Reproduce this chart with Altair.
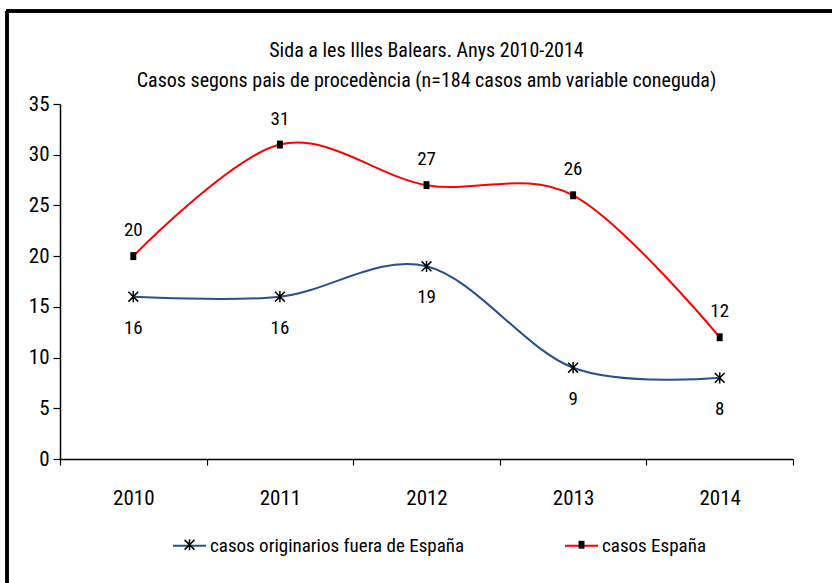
import altair as alt
import pandas as pd

years = ["2010", "2011", "2012", "2013", "2014"]
fuera = [16, 16, 19, 9, 8]
espana = [20, 31, 27, 26, 12]
series = ["casos originarios fuera de España", "casos España"]
colors = ["#27508C", "#FF0000"]
title_lines = ["Sida a les Illes Balears. Anys 2010-2014",
               "Casos segons pais de procedència (n=184  casos amb variable coneguda)"]
y_ticks = [0, 5, 10, 15, 20, 25, 30, 35]

FONT = "Liberation Sans Narrow, Arial Narrow, Roboto Condensed, DejaVu Sans Condensed, sans-serif"

# asterisk made of three thin filled bars; square marker
ASTER = ("M-0.045,-0.34L0.045,-0.34L0.045,0.34L-0.045,0.34Z"
         "M-0.265,-0.329L0.329,0.265L0.265,0.329L-0.329,-0.265Z"
         "M-0.329,0.265L0.265,-0.329L0.329,-0.265L-0.265,0.329Z")
SQUARE = "M-0.18,-0.24L0.18,-0.24L0.18,0.24L-0.18,0.24Z"

rows = []
for name, vals in zip(series, [fuera, espana]):
    for yr, v in zip(years, vals):
        rows.append({"year": yr, "serie": name, "serie_s": name, "value": v})
df = pd.DataFrame(rows)

SYM = 1089
LX, LY = 112, 424

x = alt.X("year:N", title=None, bandPosition=0.5,
          scale=alt.Scale(type="band", paddingInner=0, paddingOuter=0),
          axis=alt.Axis(tickBand="extent", labelAngle=0, labelFont=FONT, labelFontSize=21,
                        labelColor="black", labelPadding=22, tickSize=6, tickColor="black",
                        domainColor="black", domainWidth=1.5, tickWidth=1.2, grid=False))
y = alt.Y("value:Q", title=None,
          scale=alt.Scale(domain=[0, 35], nice=False),
          axis=alt.Axis(values=y_ticks, grid=False, tickSize=7, tickColor="black", tickWidth=1.2,
                        domainColor="black", domainWidth=1.5, labelFont=FONT, labelFontSize=21,
                        labelColor="black", labelPadding=4))

base = alt.Chart(df)

lines = base.mark_line(interpolate="cardinal", strokeWidth=2).encode(
    x=x, y=y,
    color=alt.Color("serie:N", scale=alt.Scale(domain=series, range=colors),
                    legend=alt.Legend(title=None, orient="none", legendX=LX, legendY=LY,
                                      direction="horizontal", symbolType="stroke",
                                      symbolSize=SYM, symbolStrokeWidth=2,
                                      labelFont=FONT, labelFontSize=19, labelColor="black",
                                      labelOffset=3, columnPadding=96, labelLimit=400)),
)

points = base.mark_point(filled=True, fill="black", strokeWidth=0,
                         size=SYM, opacity=1).encode(
    x=x, y=y,
    shape=alt.Shape("serie_s:N", scale=alt.Scale(domain=series, range=[ASTER, SQUARE]),
                    legend=alt.Legend(title=None, orient="none", legendX=LX + 1, legendY=LY,
                                      direction="horizontal", symbolSize=SYM,
                                      symbolFillColor="black", symbolStrokeWidth=0,
                                      symbolOpacity=1, labelExpr="''",
                                      labelFont=FONT, labelFontSize=19,
                                      labelOffset=3, columnPadding=356, labelLimit=400)),
)

lab_es = base.transform_filter(alt.datum.serie == series[1]).mark_text(
    dy=-26, font=FONT, fontSize=19, color="black").encode(x=x, y=y, text="value:Q")
lab_fu = base.transform_filter(alt.datum.serie == series[0]).mark_text(
    dy=31, font=FONT, fontSize=19, color="black").encode(x=x, y=y, text="value:Q")

border_left = alt.Chart(df).mark_rule(color="black", strokeWidth=2.5).encode(
    x=alt.value(-53), y=alt.value(-93), y2=alt.value(520))
border_top = alt.Chart(df).mark_rule(color="black", strokeWidth=2.5).encode(
    x=alt.value(-54), x2=alt.value(800), y=alt.value(-93))

chart = alt.layer(border_left, border_top, lines, points, lab_es, lab_fu).resolve_legend(
    color="independent", shape="independent"
).properties(
    width=733, height=355,
    padding={"left": 60, "top": 104, "right": 39, "bottom": 124},
    autosize=alt.AutoSizeParams(type="none"),
    background="white",
    title=alt.TitleParams(text=title_lines, font=FONT, fontSize=20, fontWeight="normal",
                          color="black", anchor="middle", lineHeight=30, offset=-81),
).configure_view(stroke=None)

chart.save("out.html", embed_options={"renderer": "svg", "actions": False})
